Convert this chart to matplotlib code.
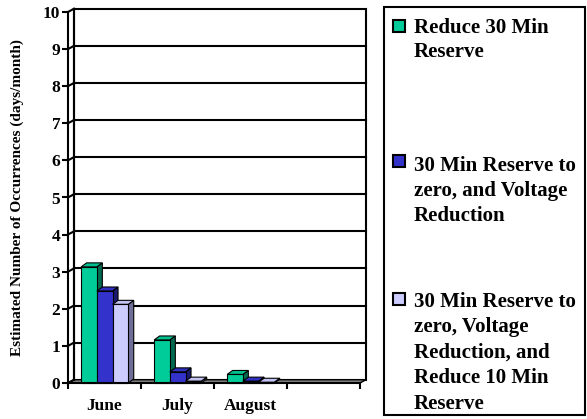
import matplotlib
matplotlib.use("Agg")
import matplotlib.pyplot as plt
from matplotlib.patches import Polygon, Rectangle
import numpy as np

categories = ["June", "July", "August", ""]
series_names = [
    "Reduce 30 Min\nReserve",
    "30 Min Reserve to\nzero, and Voltage\nReduction",
    "30 Min Reserve to\nzero, Voltage\nReduction, and\nReduce 10 Min\nReserve",
]
reduce30 = [3.13, 1.16, 0.23, 0.0]
volt_red = [2.48, 0.30, 0.05, 0.0]
reduce10 = [2.12, 0.05, 0.02, 0.0]
series_values = [reduce30, volt_red, reduce10]
yticks = list(range(0, 11))

front_colors = ["#00CC99", "#3333CC", "#CCCCFF"]
side_colors = ["#006B50", "#1A1A70", "#6E6E96"]
top_colors = ["#00C090", "#3030C0", "#C4C4F4"]

W, H = 587, 419
fig = plt.figure(figsize=(W / 100, H / 100), dpi=100)
FONT = "Liberation Serif"

# plot area (front plane) in pixels
x0p, x1p, y0p, y1p = 68, 360, 383, 12
ax = fig.add_axes([x0p / W, (H - y0p) / H, (x1p - x0p) / W, (y0p - y1p) / H])
ncat = len(categories)
ax.set_xlim(0, ncat)
ax.set_ylim(0, 10)
ax.patch.set_visible(False)

pxx = ncat / (x1p - x0p)
pxy = 10 / (y0p - y1p)
wdx, wdy = 6 * pxx, 3.3 * pxy      # wall depth
bdx, bdy = 5.5 * pxx, 4.0 * pxy    # bar depth
lw = 1.5

# floor
ax.add_patch(Polygon([(0, 0), (ncat, 0), (ncat + wdx, wdy), (wdx, wdy)],
                     closed=True, facecolor="#808080", edgecolor="black",
                     lw=1.0, clip_on=False, zorder=1))
# back wall
ax.add_patch(Rectangle((wdx, wdy), ncat, 10, facecolor="white", edgecolor="black",
                       lw=lw, clip_on=False, zorder=0.5))
for y in yticks[1:-1]:
    ax.plot([wdx, ncat + wdx], [y + wdy, y + wdy], color="black", lw=lw,
            clip_on=False, zorder=1)
# left wall
for y in yticks:
    ax.plot([0, wdx], [y, y + wdy], color="black", lw=lw, clip_on=False, zorder=1)
ax.plot([wdx, wdx], [wdy, 10 + wdy], color="black", lw=lw, clip_on=False, zorder=1)

# bars
nser = len(series_values)
bw = 0.215
off = 0.18
z = 3
for c in range(ncat):
    for s in range(nser):
        v = series_values[s][c]
        if c >= 3:
            continue
        xl = c + off + s * bw
        xr = xl + bw
        ax.add_patch(Polygon([(xr, 0), (xr + bdx, bdy), (xr + bdx, v + bdy), (xr, v)],
                             closed=True, facecolor=side_colors[s], edgecolor="black",
                             lw=0.8, clip_on=False, zorder=z))
        ax.add_patch(Polygon([(xl, v), (xr, v), (xr + bdx, v + bdy), (xl + bdx, v + bdy)],
                             closed=True, facecolor=top_colors[s], edgecolor="black",
                             lw=0.8, clip_on=False, zorder=z))
        ax.bar(xl, v, width=bw, align="edge", color=front_colors[s],
               edgecolor="black", lw=0.8, zorder=z + 0.5, clip_on=False)
        z += 1

# spines and ticks
for sp in ["top", "right"]:
    ax.spines[sp].set_visible(False)
for sp in ["left", "bottom"]:
    ax.spines[sp].set_linewidth(lw)
    ax.spines[sp].set_zorder(50)
ax.set_yticks(yticks)
ax.set_yticklabels([str(t) for t in yticks], fontfamily=FONT, fontweight="bold",
                   fontsize=12.5)
ax.set_xticks(np.arange(0, ncat + 1))
ax.set_xticklabels([])
ax.set_xticks(np.arange(ncat) + 0.5, minor=True)
ax.set_xticklabels(categories, minor=True, fontfamily=FONT, fontweight="bold",
                   fontsize=12.5)
ax.tick_params(axis="both", which="major", length=4.5, width=lw, direction="out",
               pad=1)
ax.tick_params(axis="x", which="minor", length=0, pad=11)
ax.set_ylabel("Estimated Number of Occurrences (days/month)", fontfamily=FONT,
              fontweight="bold", fontsize=11, labelpad=14)

# legend (manual)
def fx(px):
    return px / W

def fy(py):
    return 1 - py / H

fig.patches.append(Rectangle((fx(384), fy(415)), fx(585) - fx(384), fy(7) - fy(415),
                             transform=fig.transFigure, facecolor="none",
                             edgecolor="black", lw=lw))
marker_centers = [26, 161, 299]
text_tops = [18, 156, 292]
line_spacings = [1.25, 1.33, 1.36]
for s in range(nser):
    cy = marker_centers[s]
    fig.patches.append(Rectangle((fx(393), fy(cy + 6)), fx(12), 12 / H,
                                 transform=fig.transFigure,
                                 facecolor=front_colors[s], edgecolor="black", lw=1.5))
    fig.text(fx(414), fy(text_tops[s]), series_names[s], fontfamily=FONT,
             fontweight="bold", fontsize=15, va="top", ha="left",
             linespacing=line_spacings[s])

fig.savefig("out.png", dpi=100)
